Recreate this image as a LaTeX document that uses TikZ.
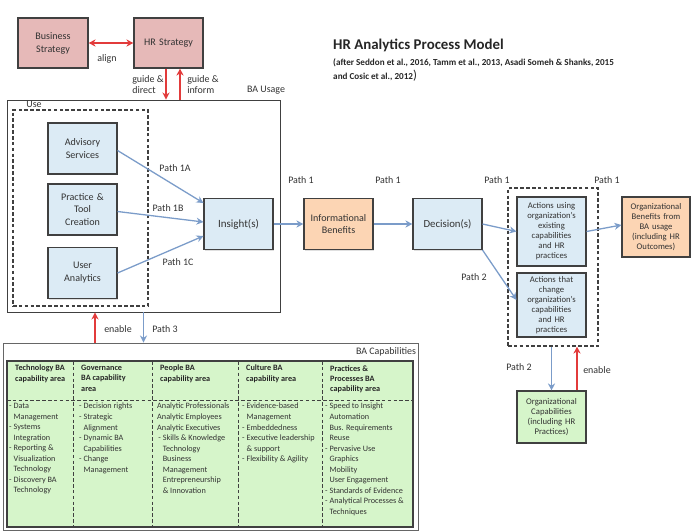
\documentclass[tikz,border=0pt]{standalone}
\usepackage{fontspec}
\setmainfont{Carlito}
\usepackage{tikz}
\usetikzlibrary{arrows.meta,positioning,calc,shadows}
\definecolor{boxline}{HTML}{404040}
\definecolor{inkgray}{HTML}{333333}
\definecolor{pinkfill}{HTML}{E6B9B8}
\definecolor{bluefill}{HTML}{DCEBF5}
\definecolor{orangefill}{HTML}{FCD5B4}
\definecolor{greenfill}{HTML}{D6F5CA}
\definecolor{flowblue}{HTML}{7B9CC9}
\definecolor{feedred}{HTML}{E23B3B}
\newcommand{\capind}{\hphantom{- }}

\begin{document}
\begin{tikzpicture}[x=0.03cm,y=-0.03cm,
  procbox/.style={rectangle,draw=boxline,line width=0.9pt,minimum width=2.07cm,minimum height=1.53cm,text width=1.9cm,align=center,inner sep=1pt,text=inkgray,font=\fontsize{8.6}{11}\selectfont,drop shadow={opacity=0.25,shadow xshift=0.9pt,shadow yshift=-0.9pt}},
  smallbox/.style={procbox,font=\fontsize{7.4}{8.6}\selectfont},
  dashbox/.style={rectangle,draw=boxline,line width=0.9pt,dash pattern=on 3pt off 2pt},
  divider/.style={draw=boxline,line width=0.8pt,dash pattern=on 3pt off 2pt},
  lbl/.style={inner sep=0pt,text=inkgray,font=\fontsize{8.5}{9.5}\selectfont,align=left},
  colhead/.style={anchor=north west,inner sep=0pt,align=left,text=black!85,font=\bfseries\fontsize{7}{8.8}\selectfont},
  colbody/.style={anchor=north west,inner sep=0pt,align=left,text=inkgray,font=\fontsize{7}{9}\selectfont},
  flowarrow/.style={-{Stealth[length=6pt,width=6pt]},flowblue,line width=1.1pt},
  feedarrow/.style={-{Stealth[length=6pt,width=6pt]},feedred,line width=1.1pt}]
\useasboundingbox (0,0) rectangle (691,532);

% strategy level
\node[procbox,fill=pinkfill,minimum width=2.1cm,minimum height=1.5cm] (bus) at (53,43) {Business\\Strategy};
\node[procbox,fill=pinkfill,minimum height=1.5cm] (hrs) at (168.5,43) {HR Strategy};
\draw[feedarrow,{Stealth[length=6pt,width=6pt]}-{Stealth[length=6pt,width=6pt]}] (bus) -- (hrs);
\node[lbl] (alignlbl) at (107,59) {align};

% title
\node[anchor=west,inner sep=0pt,text=black!85,font=\bfseries\fontsize{12.7}{15}\selectfont] (title) at (333,45) {HR Analytics Process Model};
\node[anchor=north west,inner sep=0pt,align=left,text=black!85,font=\bfseries\fontsize{7.8}{12.7}\selectfont] (subtitle) at (333,58) {(after Seddon et al., 2016, Tamm et al., 2013, Asadi Someh \& Shanks, 2015\\and Cosic et al., 2012{\mdseries\fontsize{11}{12.7}\selectfont )}};

% BA usage
\node[draw=boxline,line width=0.8pt,minimum width=8.19cm,minimum height=6.36cm] (usage) at (143.5,206) {};
\node[lbl] (usagelbl) at (266,90) {BA Usage};
\node[dashbox,minimum width=4.05cm,minimum height=5.88cm] (usebox) at (80.5,208) {};
\node[lbl] (uselbl) at (34,104) {Use};
\node[procbox,fill=bluefill] (adv) at (82.5,148.5) {Advisory\\Services};
\node[procbox,fill=bluefill] (prac) at (82.5,209.5) {Practice \&\\Tool\\Creation};
\node[procbox,fill=bluefill] (usr) at (82.5,273) {User\\Analytics};
\node[procbox,fill=bluefill,font=\fontsize{9.4}{11}\selectfont] (ins) at (238.5,224) {Insight(s)};
\draw[flowarrow] ($(adv.east)+(0,2)$) -- ($(ins.west)+(0,-21)$);
\draw[flowarrow] ($(prac.east)+(0,2)$) -- ($(ins.west)+(0,-2)$);
\draw[flowarrow] (usr.east) -- ($(ins.west)+(0,12)$);
\node[lbl] (p1a) at (175,168) {Path 1A};
\node[lbl] (p1b) at (168,208) {Path 1B};
\node[lbl] (p1c) at (178,262) {Path 1C};

% guidance between strategy and usage
\coordinate (gdown) at ($(hrs.south)+(-2.5,0)$);
\coordinate (gup) at ($(usage.north)+(36.5,0)$);
\draw[feedarrow] (gdown) -- (gdown |- usage.north);
\draw[feedarrow] (gup) -- (gup |- hrs.south);
\node[lbl] (guidedir) at (148,85) {guide \&\\direct};
\node[lbl] (guideinf) at (203,85) {guide \&\\inform};

% path 1 chain
\node[procbox,fill=orangefill] (info) at (338.5,224) {Informational\\Benefits};
\node[procbox,fill=bluefill,font=\fontsize{9.2}{11}\selectfont] (dec) at (447.5,224) {Decision(s)};
\node[dashbox,minimum width=2.7cm,minimum height=4.74cm] (actgroup) at (553,267) {};
\node[smallbox,fill=bluefill,minimum height=2.07cm] (act1) at (551.5,231.5) {Actions using\\organization's\\existing\\capabilities\\and HR\\practices};
\node[smallbox,fill=bluefill,minimum height=1.92cm] (act2) at (551.5,305) {Actions that\\change\\organization's\\capabilities\\and HR\\practices};
\node[smallbox,fill=orangefill,minimum width=2.04cm,minimum height=1.8cm] (orgben) at (656,227) {Organizational\\Benefits from\\BA usage\\(including HR\\Outcomes)};
\node[smallbox,fill=greenfill,minimum height=1.56cm] (orgcap) at (551.5,417) {Organizational\\Capabilities\\(including HR\\Practices)};
\draw[flowarrow] (ins) -- (info);
\draw[flowarrow] (info) -- (dec);
\draw[flowarrow] (dec.east) -- (act1.west);
\draw[flowarrow] (dec.south east) -- ($(act2.west)+(0,-5)$);
\draw[flowarrow] (act1.east) -- ($(orgben.west)+(0,-2)$);
\foreach \px/\nm in {301/pa,388/pb,497/pc,607/pd}
  \node[lbl] (path1\nm) at (\px,180) {Path 1};
\node[lbl] (path2top) at (474,277) {Path 2};

% organizational capabilities loop
\coordinate (capup) at ($(orgcap.north)+(25.5,0)$);
\draw[flowarrow] (actgroup.south -| orgcap.north) -- (orgcap.north);
\draw[feedarrow] (capup) -- (capup |- actgroup.south);
\node[lbl] (path2low) at (519,367) {Path 2};
\node[lbl] (enableright) at (597,370) {enable};

% BA capabilities
\node[draw=boxline!80,line width=0.8pt,minimum width=12.45cm,minimum height=5.61cm] (bacap) at (210.5,436.5) {};
\node[lbl] (bacaplbl) at (386,352) {BA Capabilities};
\node[draw=boxline,fill=greenfill,line width=1.1pt,minimum width=12.18cm,minimum height=4.98cm] (catalog) at (210,444) {};
\foreach \cx in {73,152,238,322}
  \draw[divider] (\cx,361) -- (\cx,527);
\draw[divider] (7,400) -- (413,400);
\coordinate (capen) at ($(bacap.north)+(-115.5,0)$);
\draw[flowarrow] (usage.south) -- (usage.south |- bacap.north);
\draw[feedarrow] (capen) -- (capen |- usage.south);
\node[lbl] (enableleft) at (118,329) {enable};
\node[lbl] (path3) at (165,329) {Path 3};

% capability areas
\node[colhead] (techhead) at (15,365) {Technology BA\\capability area};
\node[colhead] (govhead) at (81,365) {Governance\\BA capability\\area};
\node[colhead] (peophead) at (160,365) {People BA\\capability area};
\node[colhead] (culthead) at (246,365) {Culture BA\\capability area};
\node[colhead] (prochead) at (330,365) {Practices \&\\Processes BA\\capability area};
\node[colbody] (techbody) at (9,403) {- Data\\\capind Management\\- Systems\\\capind Integration\\- Reporting \&\\\capind Visualization\\\capind Technology\\- Discovery BA\\\capind Technology};
\node[colbody] (govbody) at (79,403) {- Decision rights\\- Strategic\\\capind Alignment\\- Dynamic BA\\\capind Capabilities\\- Change\\\capind Management};
\node[colbody] (peopbody) at (157,403) {Analytic Professionals\\Analytic Employees\\Analytic Executives\\\hspace{1pt}- Skills \& Knowledge\\\hspace{1pt}\capind Technology\\\hspace{1pt}\capind Business\\\hspace{1pt}\capind Management\\\hspace{1pt}\capind Entrepreneurship\\\hspace{1pt}\capind \& Innovation};
\node[colbody] (cultbody) at (242,403) {- Evidence-based\\\capind Management\\- Embeddedness\\- Executive leadership\\\capind \& support\\- Flexibility \& Agility};
\node[colbody] (procbody) at (325,403) {- Speed to Insight\\\capind Automation\\\capind Bus. Requirements\\\capind Reuse\\- Pervasive Use\\\capind Graphics\\\capind Mobility\\\capind User Engagement\\- Standards of Evidence\\- Analytical Processes \&\\\capind Techniques};
\end{tikzpicture}
\end{document}
